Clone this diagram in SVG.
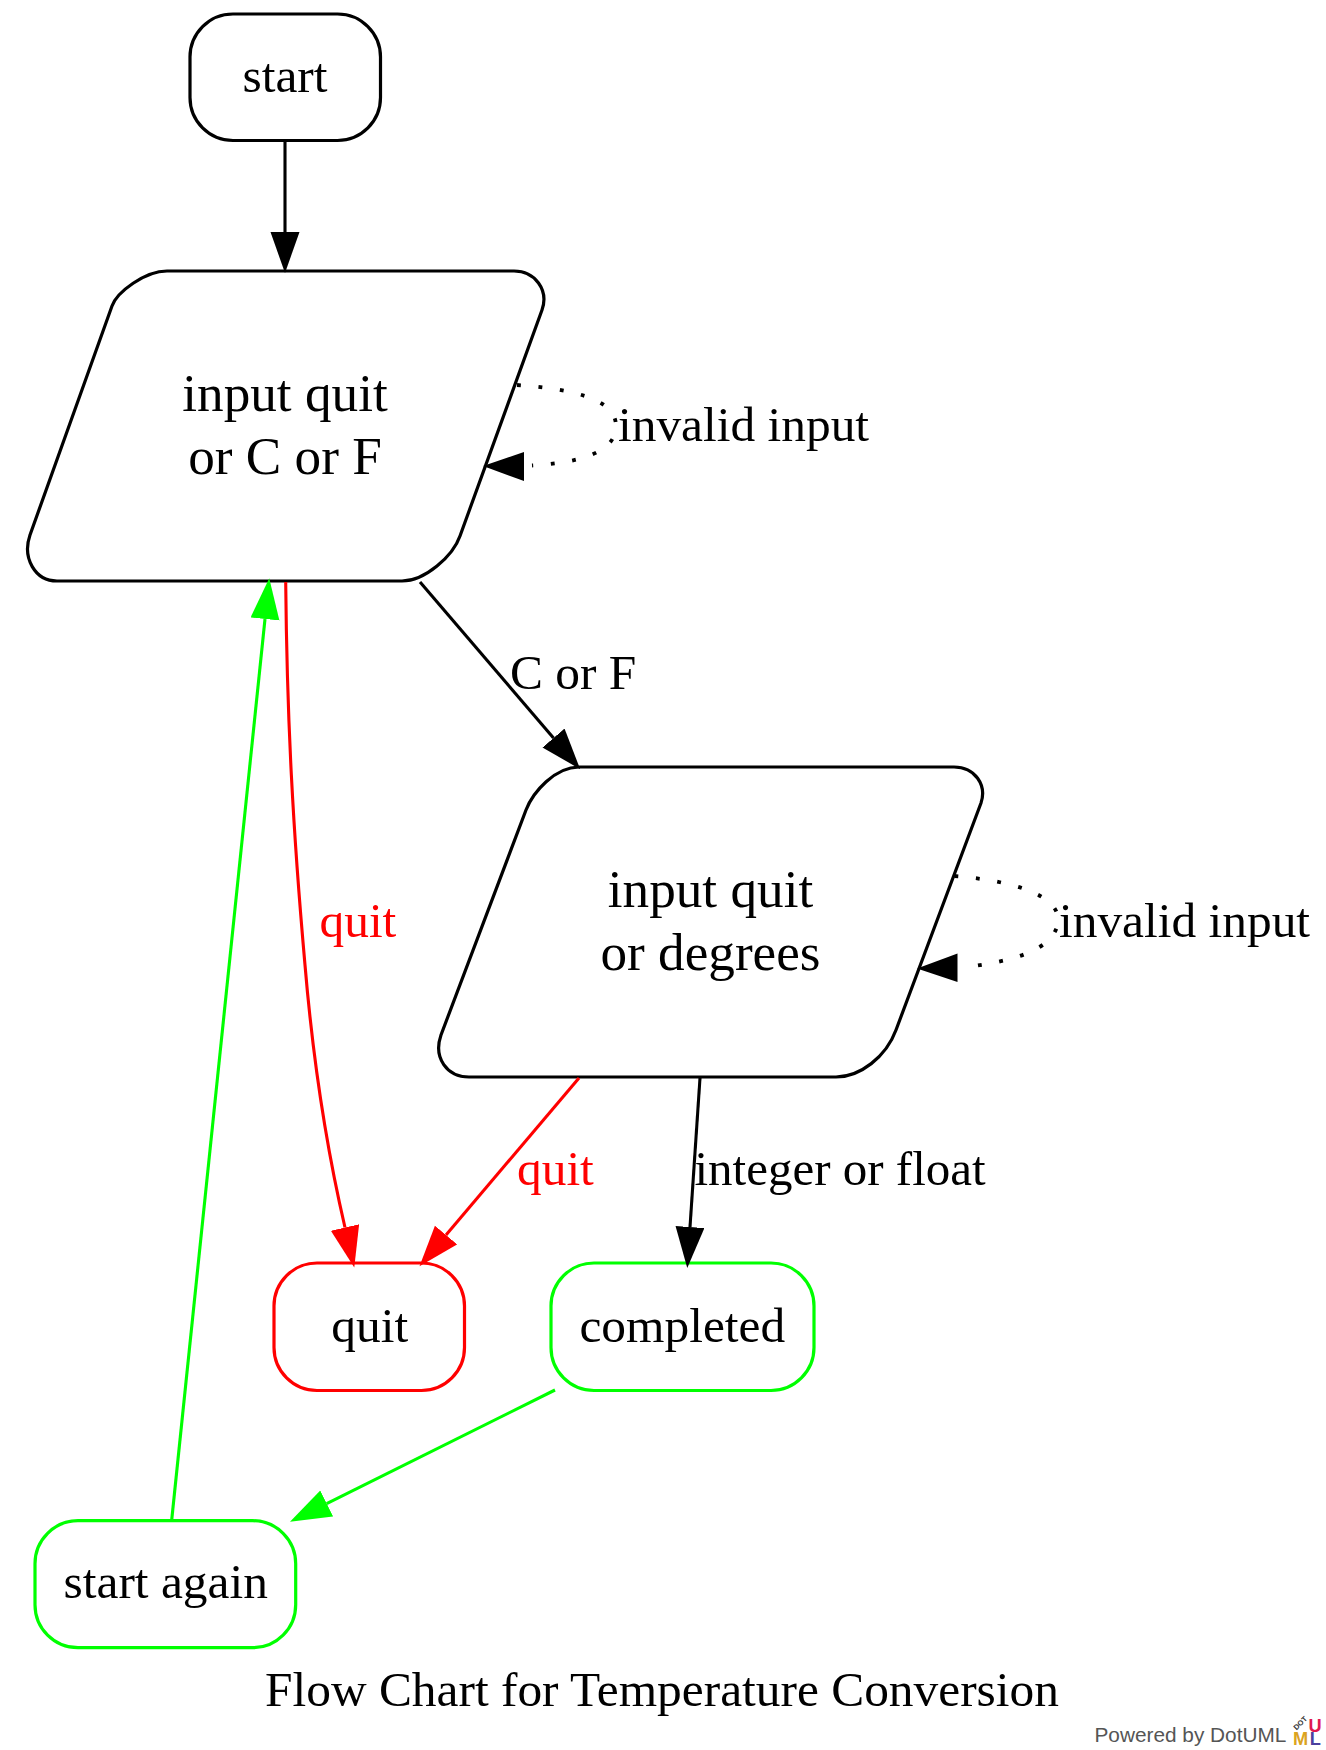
<svg xmlns="http://www.w3.org/2000/svg" width="1326" height="1750" viewBox="0 0 1326 1750">
<style>
text{font-family:"Liberation Serif","Times New Roman",serif;font-size:49.4px;fill:#000}
.c{text-anchor:middle}
.big{font-size:53.2px}
.n{fill:#fff;stroke:#000;stroke-width:3.2}
.red{stroke:#f00}
.grn{stroke:#0f0}
.e{fill:none;stroke:#000;stroke-width:3.1}
.e.red{stroke:#f00}
.e.grn{stroke:#0f0}
.dot{stroke-width:3.8;stroke-dasharray:3.8 17.7}
.k{marker-end:url(#ak)}
.r{marker-end:url(#ar)}
.g{marker-end:url(#ag)}
.lr{fill:#f00}
.pw{font-family:"Liberation Sans",Arial,sans-serif;fill:#555;font-size:20.8px}
.lg{font-family:"Liberation Sans",Arial,sans-serif;font-weight:700;font-size:18.2px}
</style>
<defs>
<marker id="ak" markerUnits="userSpaceOnUse" markerWidth="42" markerHeight="30" refX="0" refY="14.5" orient="auto"><path d="M0,0L41,14.5L0,29Z" fill="#000"/></marker>
<marker id="ar" markerUnits="userSpaceOnUse" markerWidth="42" markerHeight="30" refX="0" refY="14.5" orient="auto"><path d="M0,0L41,14.5L0,29Z" fill="#f00"/></marker>
<marker id="ag" markerUnits="userSpaceOnUse" markerWidth="42" markerHeight="30" refX="0" refY="14.5" orient="auto"><path d="M0,0L41,14.5L0,29Z" fill="#0f0"/></marker>
</defs>
<rect width="1326" height="1750" fill="#fff"/>
<g id="node-start"><rect class="n" x="190" y="14" width="190.5" height="126.5" rx="43" ry="43"/><text class="c" x="285" y="92">start</text></g>
<g id="node-input1"><path class="n" d="M167,271L514,271C535,271 549,290 542,310L460,536C453,556 425,581 402,581L57,581C35,581 22,558 30,535L112,306C117,292 145,271 167,271Z"/><text class="big c" x="285" y="411">input quit</text><text class="big c" x="285" y="474">or C or F</text></g>
<g id="node-input2"><path class="n" d="M579,767L954,767C975,767 987,785 981,803L896,1030C886,1057 860,1077 836,1077L469,1077C447,1077 433,1058 441,1035L526,810C533,792 555,767 579,767Z"/><text class="big c" x="710.5" y="907">input quit</text><text class="big c" x="710.5" y="970">or degrees</text></g>
<g id="node-quit"><rect class="n red" x="274" y="1263" width="190.5" height="127.5" rx="43" ry="43"/><text class="c" x="369.7" y="1341.7">quit</text></g>
<g id="node-completed"><rect class="n grn" x="551" y="1263" width="263" height="127.5" rx="43" ry="43"/><text class="c" x="682.3" y="1341.7">completed</text></g>
<g id="node-again"><rect class="n grn" x="35" y="1520.7" width="260.7" height="127" rx="43" ry="43"/><text class="c" x="165.7" y="1598.3">start again</text></g>
<g id="connectors">
<path class="e k" d="M285,140L285,232"/>
<path class="e dot" d="M517,385C570,389 616,398 616,426C616,454 575,463 532,465.5"/>
<path d="M524,452L483,466L524,481Z" fill="#000"/>
<path class="e k" d="M420,582L553.5,738"/>
<path class="e dot" d="M954.5,876C1005,880 1060,893 1058,921C1056,950 1010,962 965,967"/>
<path d="M957.5,953.5L917,968.5L957.5,982Z" fill="#000"/>
<path class="e red r" d="M285.7,582C287,720 293,830 305,965C313,1060 327,1150 345,1227.5"/>
<path class="e red r" d="M579,1078L446,1235"/>
<path class="e k" d="M700,1078L690,1227"/>
<path class="e grn g" d="M555,1390L326.7,1503.6"/>
<path class="e grn g" d="M171.7,1520L265,619"/>
</g>
<g id="labels">
<text x="618" y="441">invalid input</text>
<text x="1059" y="937">invalid input</text>
<text x="510" y="689">C or F</text>
<text class="lr" x="319.5" y="937">quit</text>
<text class="lr" x="517" y="1185">quit</text>
<text x="694.5" y="1185" style="font-size:49px">integer or float</text>
<text x="265" y="1706">Flow Chart for Temperature Conversion</text>
</g>
<g id="credit">
<text class="pw" x="1094.5" y="1741.7">Powered by DotUML</text>
<text class="lg" x="1293" y="1745" style="fill:#dba321">M</text>
<text class="lg" x="1308.6" y="1731.5" style="fill:#e0184f">U</text>
<text class="lg" x="1309.7" y="1745" style="fill:#4b3f9e">L</text>
<text x="1296.5" y="1730.5" transform="rotate(-45 1296.5 1730.5)" style="font-family:'Liberation Sans',Arial,sans-serif;font-weight:700;font-size:7.5px;fill:#333">DOT</text>
</g>
</svg>
